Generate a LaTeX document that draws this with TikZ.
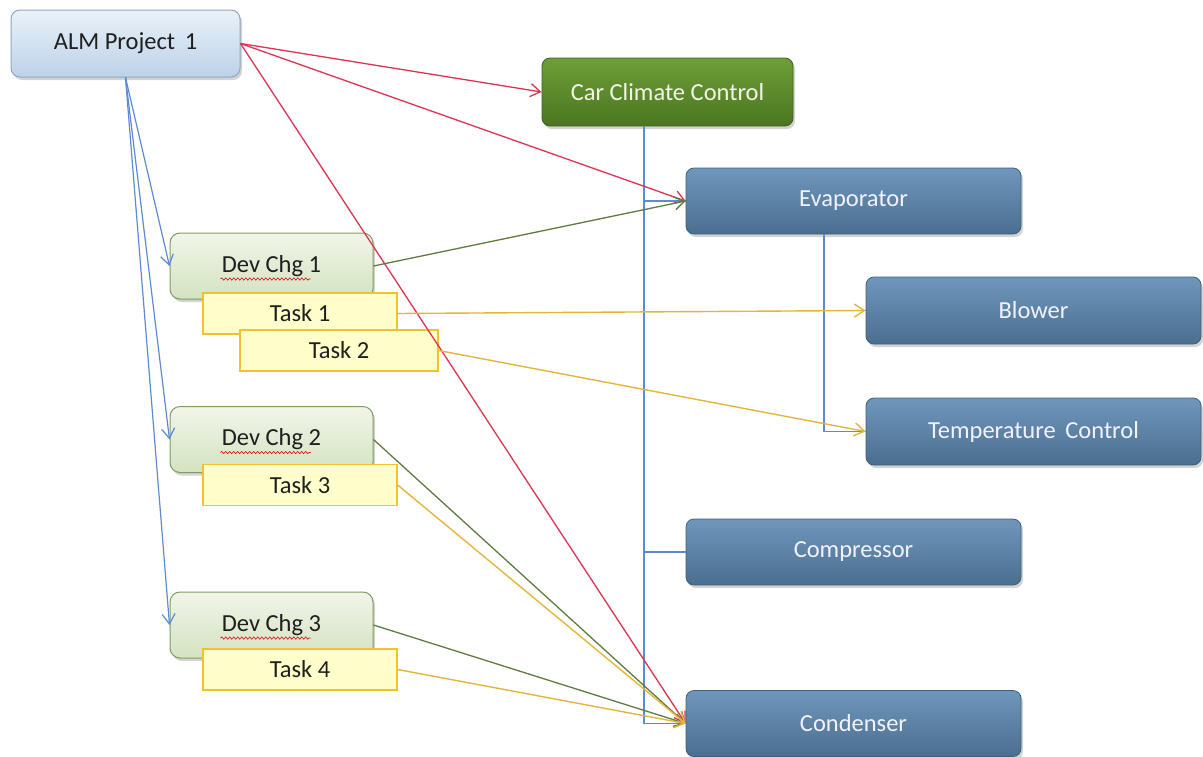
\documentclass[tikz,border=0pt]{standalone}
\usepackage{fontspec}
\setmainfont{Carlito}
\usetikzlibrary{arrows.meta,shadows,decorations.pathmorphing,calc}

\definecolor{boxblueT}{HTML}{6F97BC}
\definecolor{boxblueB}{HTML}{4A6E8F}
\definecolor{boxblueD}{HTML}{3E5F7C}
\definecolor{greenT}{HTML}{6E9E38}
\definecolor{greenB}{HTML}{4B7620}
\definecolor{greenD}{HTML}{3E6219}
\definecolor{almT}{HTML}{EAF1F8}
\definecolor{almB}{HTML}{BCD2E8}
\definecolor{almD}{HTML}{8EA8C3}
\definecolor{devT}{HTML}{F1F5EA}
\definecolor{devB}{HTML}{D3E3C0}
\definecolor{devD}{HTML}{7F9C60}
\definecolor{taskF}{HTML}{FFFFCC}
\definecolor{taskD}{HTML}{F2C12E}
\definecolor{lnblue}{HTML}{5B8BD0}
\definecolor{lnred}{HTML}{DC3352}
\definecolor{lngreen}{HTML}{5F7B40}
\definecolor{lngold}{HTML}{E3B53A}
\definecolor{lighttext}{HTML}{F2F5E6}

\tikzset{
  x=1pt, y=-1pt,
  every node/.style={font=\fontsize{24.5}{27}\selectfont},
  softshadow/.style={drop shadow={shadow xshift=2pt, shadow yshift=-3pt, opacity=0.35}},
  almbox/.style={rounded corners=9pt, draw=almD, line width=1pt, top color=almT, bottom color=almB,
    softshadow, minimum width=229pt, minimum height=67pt, text=black!88},
  rootbox/.style={rounded corners=8pt, draw=greenD, line width=0.8pt, top color=greenT, bottom color=greenB,
    softshadow, minimum width=251pt, minimum height=68pt, text=lighttext},
  partbox/.style={rounded corners=8pt, draw=boxblueD, line width=0.8pt, top color=boxblueT, bottom color=boxblueB,
    softshadow, minimum width=335pt, minimum height=66pt, text=white!95!blue},
  devbox/.style={rounded corners=10pt, draw=devD, line width=1pt, top color=devT, bottom color=devB,
    softshadow, minimum width=203pt, minimum height=66pt, text=black!88},
  taskbox/.style={draw=taskD, line width=1.2pt, fill=taskF, minimum width=194pt, minimum height=41pt, text=black!88},
  tip/.style={-{Straight Barb[length=10pt,width=13pt]}},
  tree/.style={draw=lnblue, line width=1.1pt},
  bluearr/.style={tip, draw=lnblue, line width=1.2pt},
  redarr/.style={tip, draw=lnred, line width=1.3pt},
  greenarr/.style={tip, draw=lngreen, line width=1.3pt},
  goldarr/.style={tip, draw=lngold, line width=1.4pt},
  wavy/.style={draw=red!85!black, line width=0.6pt, decorate,
    decoration={snake, amplitude=1.1pt, segment length=4pt}}
}

\begin{document}
\begin{tikzpicture}
\useasboundingbox (0,0) rectangle (1203,756);

% project and product tree
\node[almbox]  (alm)  at (125.5,43.5) {ALM Project\, 1};
\node[rootbox] (ccc)  at (667.5,92)   {Car Climate Control};
\node[partbox] (evap) at (853.5,201)  {Evaporator};
\node[partbox, minimum height=67pt] (blow) at (1033.5,310.5) {Blower};
\node[partbox, minimum height=67pt] (temp) at (1033.5,431.5) {Temperature\, Control};
\node[partbox] (comp) at (853.5,552)  {Compressor};
\node[partbox] (cond) at (853.5,723.5) {Condenser};

% development changes with their tasks
\node[devbox]  (dc1) at (271.5,266)   {Dev Chg 1};
\node[taskbox] (t1)  at (300,313.5)   {Task 1};
\node[taskbox, minimum width=198pt] (t2) at (339,350.5) {Task 2};
\node[devbox]  (dc2) at (271.5,439.5) {Dev Chg 2};
\node[taskbox] (t3)  at (300,485)     {Task 3};
\node[devbox]  (dc3) at (271.5,625)   {Dev Chg 3};
\node[taskbox] (t4)  at (300,669.5)   {Task 4};

% spell-check underlines
\foreach \d in {dc1,dc2,dc3}
  \draw[wavy] ($(\d.center)+(-51,13)$) -- ($(\d.center)+(39,13)$);

% product hierarchy
\coordinate (trunk) at (644,0);
\coordinate (branch) at (824,0);
\draw[tree] (ccc.south -| trunk) |- (cond.west);
\draw[tree] (evap.west -| trunk) -- (evap.west);
\draw[tree] (comp.west -| trunk) -- (comp.west);
\draw[tree] (evap.south -| branch) |- (temp.west);
\draw[tree] (blow.west -| branch) -- (blow.west);

% project to development changes
\draw[bluearr] (alm.south) -- (dc1.west);
\draw[bluearr] (alm.south) -- (dc2.west);
\draw[bluearr] (alm.south) -- (dc3.west);

% project links
\draw[redarr] (alm.east) -- (ccc.west);
\draw[redarr] (alm.east) -- (evap.west);
\draw[redarr] (alm.east) -- (cond.west);

% change links
\draw[greenarr] (dc1.east) -- (evap.west);
\draw[greenarr] (dc2.east) -- (cond.west);
\draw[greenarr] (dc3.east) -- (cond.west);

% task links
\draw[goldarr] (t1.east) -- (blow.west);
\draw[goldarr] (t2.east) -- (temp.west);
\draw[goldarr] (t3.east) -- (cond.west);
\draw[goldarr] (t4.east) -- (cond.west);
\end{tikzpicture}
\end{document}
